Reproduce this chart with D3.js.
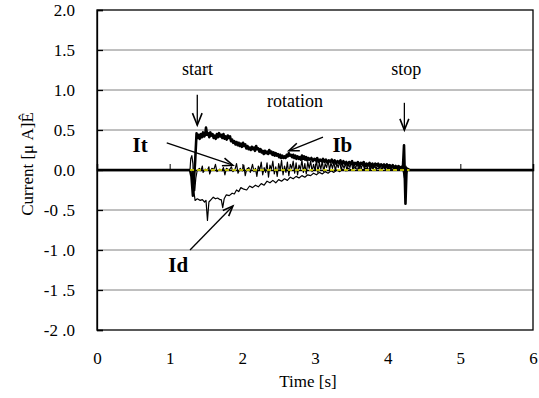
<!DOCTYPE html>
<html>
<head>
<meta charset="utf-8">
<script src="https://cdn.jsdelivr.net/npm/d3@7"></script>
<style>
  html, body { margin: 0; padding: 0; background: #fff; }
  svg text { font-family: "Liberation Serif", "Times New Roman", "DejaVu Serif", serif; }
</style>
</head>
<body>
<svg id="chart" width="539" height="398"></svg>
<script>
// Axis ranges and tick labels
const xTicks = [0, 1, 2, 3, 4, 5, 6];
const yTicks = [2.0, 1.5, 1.0, 0.5, 0.0, -0.5, -1.0, -1.5, -2.0];
const yTickLabels = ["2.0", "1.5", "1.0", "0.5", "0.0", "-0 .5", "-1 .0", "-1 .5", "-2 .0"];

// Ib: bearing current [time s, current µA]
const ibData = [
  [0, 0], [1.28, 0], [1.30, -0.08], [1.32, -0.32], [1.35, 0.10],
  [1.37, 0.46], [1.385, 0.40], [1.40, 0.44], [1.415, 0.39], [1.43, 0.45], [1.445, 0.41],
  [1.46, 0.47], [1.475, 0.42], [1.49, 0.44], [1.50, 0.53], [1.515, 0.44], [1.53, 0.46],
  [1.545, 0.41], [1.56, 0.47], [1.575, 0.43], [1.59, 0.45], [1.605, 0.40], [1.62, 0.43],
  [1.635, 0.39], [1.65, 0.45], [1.665, 0.41], [1.68, 0.46], [1.695, 0.42], [1.71, 0.44],
  [1.725, 0.40], [1.74, 0.45], [1.755, 0.39], [1.77, 0.42], [1.785, 0.38], [1.80, 0.43],
  [1.815, 0.40], [1.83, 0.42], [1.845, 0.36], [1.86, 0.38], [1.875, 0.34], [1.89, 0.36],
  [1.905, 0.32], [1.92, 0.35], [1.935, 0.31], [1.95, 0.34], [1.965, 0.30], [1.98, 0.33],
  [1.995, 0.29], [2.01, 0.34], [2.025, 0.30], [2.04, 0.32], [2.055, 0.27], [2.07, 0.30],
  [2.085, 0.26], [2.10, 0.28], [2.115, 0.25], [2.13, 0.29], [2.145, 0.26], [2.16, 0.28],
  [2.175, 0.24], [2.19, 0.30], [2.205, 0.26], [2.22, 0.27], [2.235, 0.23], [2.25, 0.26],
  [2.265, 0.22], [2.28, 0.24], [2.295, 0.20], [2.31, 0.24], [2.325, 0.21], [2.34, 0.23],
  [2.355, 0.20], [2.37, 0.25], [2.385, 0.21], [2.40, 0.23], [2.415, 0.19], [2.43, 0.22],
  [2.445, 0.18], [2.46, 0.21], [2.475, 0.18], [2.49, 0.20], [2.505, 0.16], [2.52, 0.19],
  [2.535, 0.15], [2.55, 0.18], [2.565, 0.15], [2.58, 0.17], [2.595, 0.15], [2.61, 0.19],
  [2.625, 0.17], [2.64, 0.21], [2.655, 0.18], [2.67, 0.19], [2.685, 0.16], [2.70, 0.19],
  [2.715, 0.15], [2.73, 0.18], [2.745, 0.14], [2.76, 0.17], [2.775, 0.14], [2.79, 0.16],
  [2.805, 0.13], [2.82, 0.18], [2.835, 0.14], [2.85, 0.17], [2.865, 0.13], [2.88, 0.16],
  [2.895, 0.12], [2.91, 0.15], [2.93, 0.13], [2.95, 0.15], [2.97, 0.11], [2.99, 0.14],
  [3.01, 0.12], [3.03, 0.15], [3.05, 0.10], [3.07, 0.13], [3.09, 0.11], [3.11, 0.14],
  [3.13, 0.10], [3.15, 0.13], [3.17, 0.09], [3.19, 0.12], [3.21, 0.10], [3.23, 0.13],
  [3.25, 0.09], [3.27, 0.12], [3.29, 0.08], [3.31, 0.11], [3.33, 0.09], [3.35, 0.12],
  [3.37, 0.07], [3.39, 0.11], [3.41, 0.08], [3.43, 0.10], [3.45, 0.06], [3.47, 0.10],
  [3.49, 0.08], [3.51, 0.11], [3.53, 0.06], [3.55, 0.09], [3.57, 0.07], [3.59, 0.10],
  [3.61, 0.05], [3.63, 0.09], [3.65, 0.07], [3.67, 0.10], [3.69, 0.05], [3.71, 0.08],
  [3.73, 0.06], [3.75, 0.09], [3.77, 0.05], [3.79, 0.08], [3.81, 0.04], [3.83, 0.08],
  [3.85, 0.06], [3.87, 0.08], [3.89, 0.04], [3.91, 0.07], [3.93, 0.05], [3.95, 0.07],
  [3.97, 0.03], [3.99, 0.07], [4.01, 0.04], [4.03, 0.06], [4.05, 0.03], [4.07, 0.06],
  [4.09, 0.03], [4.11, 0.05], [4.13, 0.02], [4.15, 0.05], [4.17, 0.03], [4.19, 0.04],
  [4.21, 0.03], [4.225, 0.31], [4.245, -0.42], [4.26, 0.02], [4.30, 0], [6, 0]
];

// It: total current
const itData = [
  [0, 0], [1.28, 0], [1.29, 0.14], [1.305, 0.18], [1.32, 0.08], [1.33, -0.20], [1.345, -0.26],
  [1.36, -0.10], [1.38, 0.00], [1.41, 0.02], [1.43, -0.01], [1.45, 0.05], [1.46, -0.03],
  [1.49, 0.01], [1.52, 0.00], [1.54, 0.04], [1.55, -0.05], [1.58, 0.02], [1.61, 0.01],
  [1.63, 0.07], [1.65, -0.02], [1.69, 0.01], [1.72, -0.01], [1.74, 0.03], [1.76, -0.06],
  [1.78, 0.02], [1.82, 0.00], [1.85, 0.04], [1.87, -0.02], [1.90, 0.01], [1.92, 0.08],
  [1.94, -0.04], [1.97, 0.02], [2.00, -0.01], [2.02, 0.06], [2.04, -0.07], [2.06, 0.01],
  [2.09, 0.03], [2.11, -0.03], [2.14, 0.07], [2.16, -0.02], [2.18, 0.02], [2.20, -0.08],
  [2.22, 0.05], [2.24, 0.00], [2.26, 0.10], [2.28, -0.06], [2.30, 0.03], [2.32, -0.03],
  [2.34, 0.09], [2.36, -0.09], [2.38, 0.06], [2.40, 0.01], [2.42, 0.11], [2.44, -0.05],
  [2.46, 0.04], [2.48, -0.08], [2.50, 0.08], [2.52, 0.00], [2.54, 0.12], [2.56, -0.06],
  [2.58, 0.05], [2.60, -0.03], [2.62, 0.10], [2.64, -0.07], [2.66, 0.07], [2.68, 0.02],
  [2.70, 0.11], [2.72, -0.04], [2.74, 0.09], [2.76, -0.06], [2.78, 0.06], [2.80, 0.01],
  [2.82, 0.12], [2.84, -0.03], [2.86, 0.08], [2.88, -0.05], [2.90, 0.10], [2.92, 0.02],
  [2.94, 0.11], [2.96, -0.02], [2.98, 0.07], [3.00, 0.00], [3.02, 0.12], [3.04, -0.03],
  [3.06, 0.09], [3.08, 0.01], [3.10, 0.11], [3.12, -0.02], [3.14, 0.08], [3.16, 0.03],
  [3.18, 0.12], [3.20, 0.00], [3.22, 0.09], [3.24, 0.02], [3.26, 0.10], [3.28, -0.01],
  [3.30, 0.08], [3.32, 0.03], [3.34, 0.11], [3.36, 0.00], [3.38, 0.07], [3.40, 0.02],
  [3.42, 0.09], [3.44, -0.01], [3.46, 0.08], [3.48, 0.03], [3.50, 0.10], [3.52, 0.01],
  [3.54, 0.07], [3.56, 0.02], [3.58, 0.09], [3.60, 0.00], [3.62, 0.06], [3.64, 0.03],
  [3.66, 0.08], [3.68, 0.01], [3.70, 0.07], [3.72, 0.02], [3.74, 0.08], [3.76, 0.00],
  [3.78, 0.06], [3.80, 0.02], [3.82, 0.07], [3.84, 0.01], [3.86, 0.06], [3.88, 0.03],
  [3.90, 0.07], [3.92, 0.00], [3.94, 0.05], [3.96, 0.02], [3.98, 0.06], [4.00, 0.01],
  [4.02, 0.05], [4.04, 0.02], [4.06, 0.06], [4.08, 0.00], [4.10, 0.04], [4.12, 0.01],
  [4.14, 0.05], [4.16, 0.00], [4.18, 0.03], [4.20, 0.00], [4.23, 0.05], [4.25, -0.08],
  [4.27, 0], [6, 0]
];

// Id: discharge current
const idData = [
  [0, 0], [1.31, 0], [1.33, -0.25], [1.35, -0.38], [1.38, -0.36], [1.42, -0.38], [1.45, -0.37],
  [1.48, -0.40], [1.50, -0.38], [1.52, -0.63], [1.54, -0.40], [1.57, -0.37], [1.60, -0.34],
  [1.63, -0.36], [1.66, -0.35], [1.69, -0.37], [1.71, -0.37], [1.73, -0.47], [1.75, -0.36],
  [1.78, -0.31], [1.82, -0.32], [1.86, -0.29], [1.89, -0.30], [1.92, -0.25], [1.95, -0.27],
  [1.98, -0.22], [2.02, -0.24], [2.06, -0.25], [2.10, -0.20], [2.14, -0.22], [2.18, -0.19],
  [2.22, -0.21], [2.26, -0.17], [2.30, -0.19], [2.34, -0.14], [2.38, -0.16], [2.42, -0.13],
  [2.46, -0.16], [2.50, -0.12], [2.54, -0.14], [2.58, -0.11], [2.62, -0.13], [2.66, -0.09],
  [2.70, -0.11], [2.74, -0.08], [2.78, -0.10], [2.82, -0.07], [2.86, -0.09], [2.90, -0.06],
  [2.94, -0.07], [2.98, -0.04], [3.02, -0.06], [3.06, -0.03], [3.10, -0.05], [3.14, -0.02],
  [3.18, -0.04], [3.22, -0.01], [3.26, -0.03], [3.30, 0.00], [3.34, -0.02], [3.38, 0.01],
  [3.42, -0.01], [3.46, 0.02], [3.50, 0.00], [3.54, 0.03], [3.58, 0.01], [3.62, 0.03],
  [3.66, 0.00], [3.70, 0.02], [3.74, 0.01], [3.78, 0.03], [3.82, 0.00], [3.86, 0.02],
  [3.90, 0.01], [3.94, 0.03], [3.98, 0.00], [4.02, 0.02], [4.06, 0.00], [4.10, 0.02],
  [4.14, 0.00], [4.18, 0.01], [4.21, 0.00], [4.23, -0.10], [4.25, 0.05], [4.27, 0], [6, 0]
];

// Reference level during rotation
const refData = [[1.28, 0], [2.5, 0], [3.5, 0], [4.30, 0]];

// Text annotations
const eventLabels = [
  { text: "start", t: 1.17, v: 1.19 },
  { text: "rotation", t: 2.34, v: 0.79 },
  { text: "stop", t: 4.05, v: 1.19 }
];
const seriesLabels = [
  { text: "It", t: 0.49, v: 0.23 },
  { text: "Ib", t: 3.24, v: 0.22 },
  { text: "Id", t: 0.98, v: -1.28 }
];

const serif = '"Liberation Serif", "Times New Roman", "DejaVu Serif", serif';
const svg = d3.select("#chart");
const margin = { left: 97, right: 6, top: 10, bottom: 68 };
const W = 539, H = 398;

const x = d3.scaleLinear().domain([0, 6]).range([margin.left, W - margin.right]);
const y = d3.scaleLinear().domain([-2, 2]).range([H - margin.bottom, margin.top]);

// Horizontal gridlines
svg.append("g")
  .selectAll("line")
  .data(yTicks.filter(v => v !== 0 && Math.abs(v) !== 2))
  .join("line")
  .attr("x1", x(0)).attr("x2", x(6))
  .attr("y1", d => y(d)).attr("y2", d => y(d))
  .attr("stroke", "#808080").attr("stroke-width", 1);

// Plot frame
svg.append("rect")
  .attr("x", x(0)).attr("y", y(2))
  .attr("width", x(6) - x(0)).attr("height", y(-2) - y(2))
  .attr("fill", "none").attr("stroke", "#000").attr("stroke-width", 1.3);

// Y axis: inward ticks, labels on the left
const yAxis = d3.axisLeft(y)
  .tickValues(yTicks)
  .tickSize(-6)
  .tickPadding(22)
  .tickFormat((d, i) => yTickLabels[i]);
const yg = svg.append("g").attr("transform", `translate(${x(0)},0)`).call(yAxis)
  .attr("font-family", null).attr("font-size", null);
yg.select(".domain").attr("stroke", "#000").attr("stroke-width", 1.3);
yg.selectAll(".tick line").attr("stroke", "#000").attr("stroke-width", 1.3);
yg.selectAll("text")
  .style("font-family", serif)
  .style("font-size", "17px").attr("fill", "#000");

// Zero axis with small upward ticks
const zeroAxis = d3.axisBottom(x).tickValues([1, 2, 3, 4, 5]).tickSize(-6).tickFormat("");
const zg = svg.append("g").attr("transform", `translate(0,${y(0)})`).call(zeroAxis);
zg.select(".domain").attr("stroke", "#000").attr("stroke-width", 1.5);
zg.selectAll(".tick line").attr("stroke", "#000").attr("stroke-width", 1);

// X axis tick labels below the plot
const xAxis = d3.axisBottom(x).tickValues(xTicks).tickSize(0).tickPadding(22).tickFormat(d3.format("d"));
const xg = svg.append("g").attr("transform", `translate(0,${y(-2)})`).call(xAxis)
  .attr("font-family", null).attr("font-size", null);
xg.select(".domain").remove();
xg.selectAll("text")
  .style("font-family", serif)
  .style("font-size", "17px").attr("fill", "#000");

// Axis titles
svg.append("text")
  .attr("x", 308).attr("y", 387)
  .attr("text-anchor", "middle")
  .style("font-family", serif).style("font-size", "17px")
  .text("Time [s]");

svg.append("text")
  .attr("transform", `translate(33,${164}) rotate(-90)`)
  .attr("text-anchor", "middle")
  .style("font-family", serif).style("font-size", "17px")
  .text("Current [μ A]Ê");

// Current traces
const line = d3.line().x(d => x(d[0])).y(d => y(d[1]));

svg.append("path").datum(idData)
  .attr("d", line).attr("fill", "none")
  .attr("stroke", "#000").attr("stroke-width", 1.2).attr("stroke-linejoin", "round");

svg.append("path").datum(itData)
  .attr("d", line).attr("fill", "none")
  .attr("stroke", "#000").attr("stroke-width", 1.2).attr("stroke-linejoin", "round");

svg.append("path").datum(ibData)
  .attr("d", line).attr("fill", "none")
  .attr("stroke", "#000").attr("stroke-width", 2.6).attr("stroke-linejoin", "round");

svg.append("path").datum(refData)
  .attr("d", line).attr("fill", "none")
  .attr("stroke", "#f0f000").attr("stroke-width", 1.5)
  .attr("stroke-dasharray", "4,3");

// Event labels
svg.append("g").selectAll("text")
  .data(eventLabels)
  .join("text")
  .attr("x", d => x(d.t)).attr("y", d => y(d.v))
  .style("font-family", serif).style("font-size", "18px")
  .text(d => d.text);

// Series labels
svg.append("g").selectAll("text")
  .data(seriesLabels)
  .join("text")
  .attr("x", d => x(d.t)).attr("y", d => y(d.v))
  .style("font-family", serif).style("font-size", "21px").style("font-weight", "bold")
  .text(d => d.text);

// Arrows: [fromT, fromV, toT, toV, head length]
const arrows = [
  [1.38, 0.94, 1.38, 0.56, 13],   // start
  [4.23, 0.84, 4.23, 0.50, 12],   // stop
  [0.96, 0.34, 1.87, 0.06, 11],   // It
  [3.11, 0.41, 2.64, 0.24, 11],   // Ib
  [1.28, -1.0, 1.87, -0.45, 11]   // Id
];
const ag = svg.append("g").attr("stroke", "#000").attr("fill", "none").attr("stroke-width", 1.3);
arrows.forEach(([t0, v0, t1, v1, len]) => {
  const x0 = x(t0), y0 = y(v0), x1 = x(t1), y1 = y(v1);
  const ang = Math.atan2(y1 - y0, x1 - x0);
  const spread = 0.38;
  ag.append("line").attr("x1", x0).attr("y1", y0).attr("x2", x1).attr("y2", y1);
  const p = d3.path();
  p.moveTo(x1 - len * Math.cos(ang - spread), y1 - len * Math.sin(ang - spread));
  p.lineTo(x1, y1);
  p.lineTo(x1 - len * Math.cos(ang + spread), y1 - len * Math.sin(ang + spread));
  ag.append("path").attr("d", p.toString()).attr("stroke-width", 1.6);
});
</script>
</body>
</html>
